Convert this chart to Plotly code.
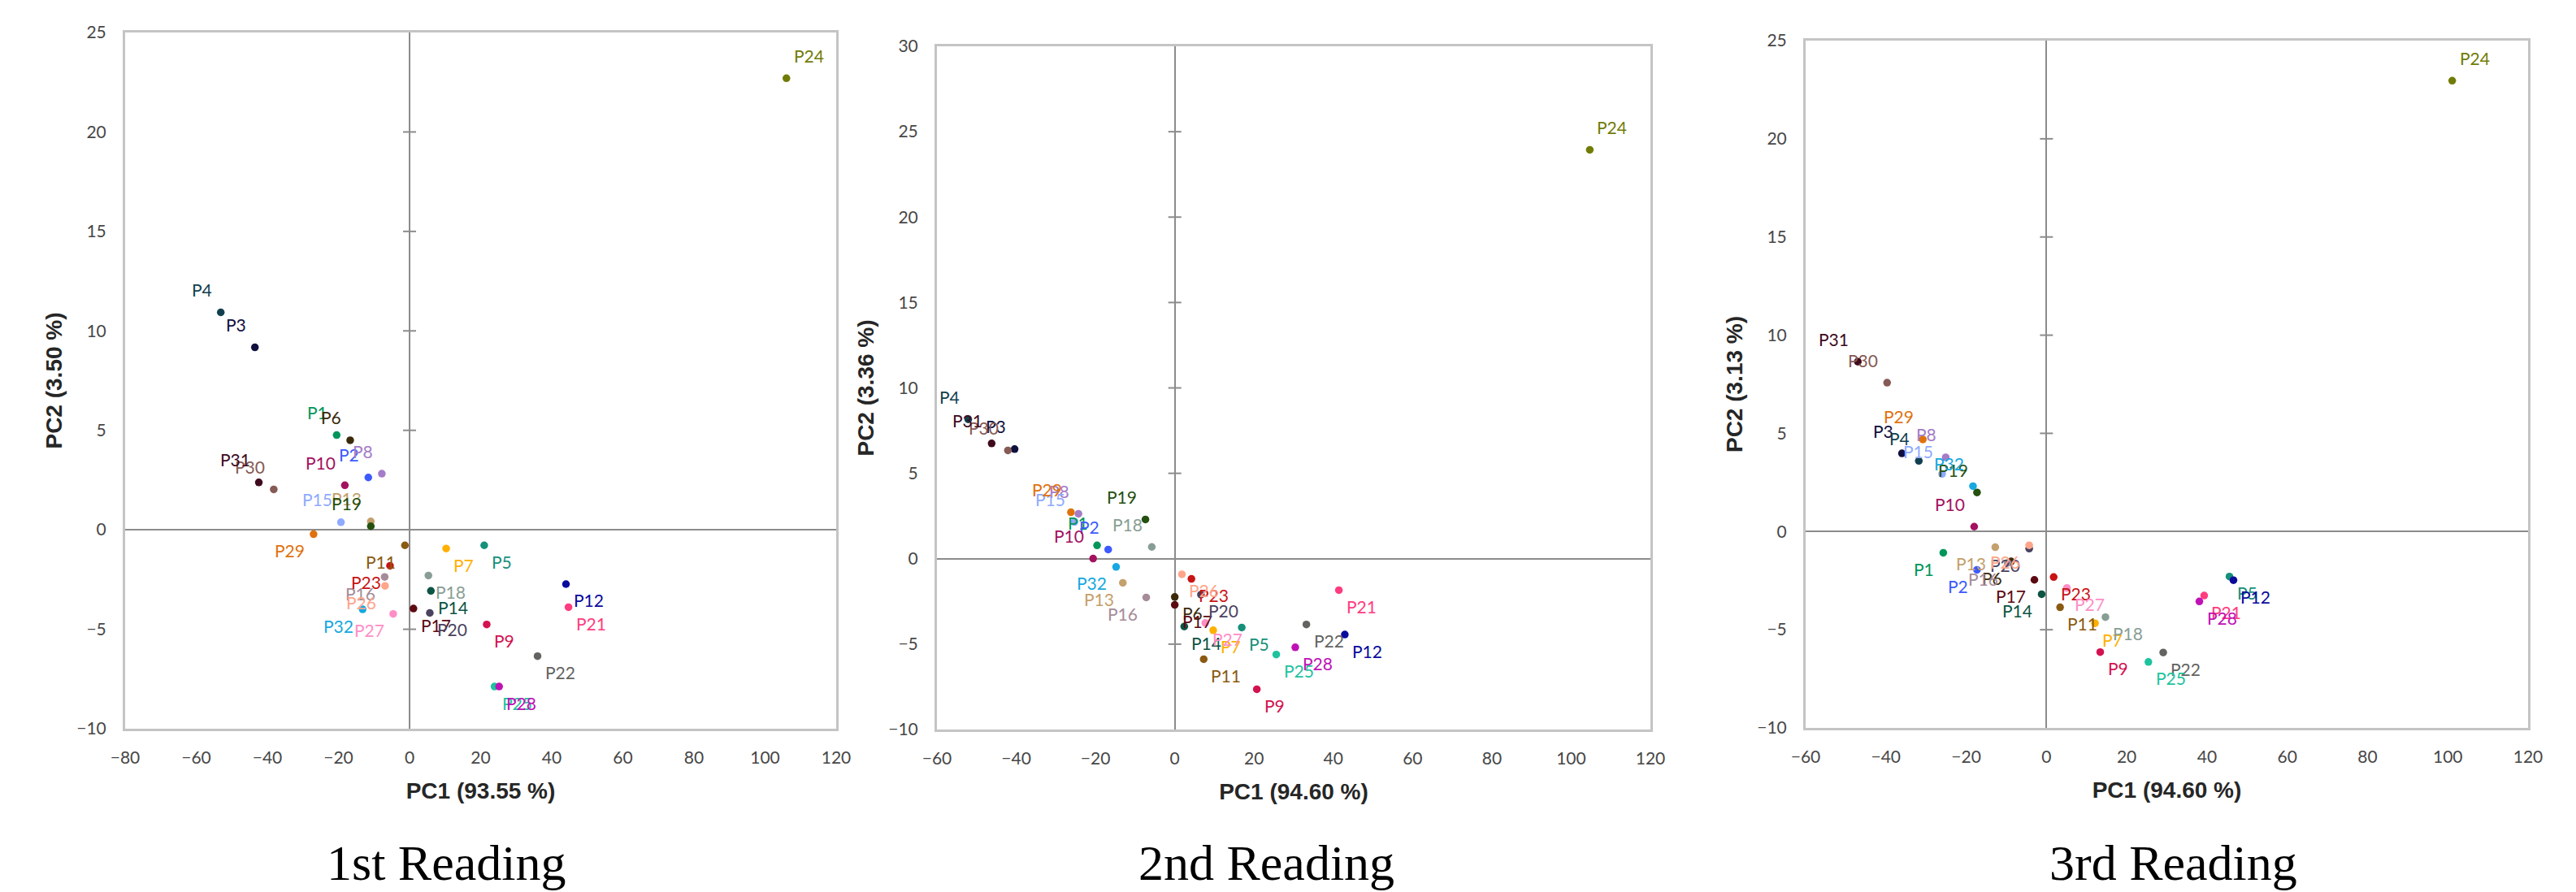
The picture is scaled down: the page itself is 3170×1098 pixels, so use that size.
import plotly.graph_objects as go

names = [f"P{i}" for i in range(1, 33)]

colors = ["#00965A", "#3D5AFE", "#10103F", "#123F4F", "#16907A", "#3B2A0A", "#FFB000", "#A47CC7",
          "#D3124F", "#A3125F", "#8A5A12", "#0A0A9C", "#C4A06C", "#0D5444", "#8FAAFF", "#A58C98",
          "#5C0A12", "#889E94", "#255010", "#4A4260", "#FF3C80", "#636360", "#C81414", "#717C06",
          "#1EC39E", "#FFA58A", "#FF8EC6", "#BF12B5", "#E0720E", "#865A55", "#400A1E", "#16A8E0"]

# 1st reading
pc1_r1 = [-20.5, -11.6, -43.5, -53.1, 21.0, -16.7, 10.3, -7.8, 21.7, -18.2, -1.3, 44.0, -10.9, 6.0, -19.3, -7.0,
          1.1, 5.3, -10.9, 5.7, 44.7, 36.0, -5.5, 106.0, 23.9, -6.9, -4.6, 25.2, -27.0, -38.2, -42.4, -13.2]
pc2_r1 = [4.76, 2.63, 9.17, 10.93, -0.78, 4.50, -0.94, 2.82, -4.76, 2.24, -0.78, -2.73, 0.42, -3.07, 0.38, -2.37,
          -3.96, -2.30, 0.18, -4.18, -3.89, -6.35, -1.81, 22.7, -7.88, -2.82, -4.23, -7.88, -0.22, 2.03, 2.38, -4.00]

# 2nd reading
pc1_r2 = [-19.6, -16.8, -40.4, -52.1, 16.9, 0.0, 9.7, -24.3, 20.7, -20.6, 7.3, 42.9, -13.1, 2.4, -25.3, -7.2,
          0.0, -5.8, -7.4, 6.6, 41.4, 33.2, 4.2, 104.7, 25.6, 1.8, 7.7, 30.4, -26.2, -42.1, -46.2, -14.8]
pc2_r2 = [0.78, 0.54, 6.42, 8.16, -4.03, -2.24, -4.19, 2.63, -7.64, 0.01, -5.88, -4.44, -1.41, -3.97, 2.15, -2.27,
          -2.70, 0.69, 2.30, -2.10, -1.84, -3.85, -1.18, 23.94, -5.61, -0.91, -3.76, -5.19, 2.72, 6.34, 6.75, -0.48]

# 3rd reading
pc1_r3 = [-25.7, -17.3, -36.0, -31.8, 45.6, -8.8, 12.1, -25.1, 13.4, -18.0, 3.4, 46.6, -12.75, -1.2, -26.0, -9.7,
          -3.0, 14.7, -17.3, -4.3, 39.3, 29.1, 1.8, 101.1, 25.4, -4.3, 5.1, 38.1, -30.8, -39.7, -47.0, -18.3]
pc2_r3 = [-1.08, -1.95, 3.98, 3.60, -2.29, -1.52, -4.67, 3.78, -6.14, 0.25, -3.86, -2.48, -0.80, -3.19, 2.93, -1.60,
          -2.46, -4.36, 1.99, -0.87, -3.26, -6.16, -2.32, 22.96, -6.64, -0.70, -2.87, -3.56, 4.69, 7.58, 8.65, 2.31]

x_titles = ["PC1 (93.55 %)", "PC1 (94.60 %)", "PC1 (94.60 %)"]
y_titles = ["PC2 (3.50 %)", "PC2 (3.36 %)", "PC2 (3.13 %)"]
subtitles = ["1st Reading", "2nd Reading", "3rd Reading"]
x_ranges = [[-80, 120], [-60, 120], [-60, 120]]
y_ranges = [[-10, 25], [-10, 30], [-10, 25]]

panels = [(pc1_r1, pc2_r1), (pc1_r2, pc2_r2), (pc1_r3, pc2_r3)]

W, H = 3170, 1098
# plot-area pixel boxes (left, right, top, bottom)
boxes = [(154, 1029, 40, 897), (1153, 2031, 57, 898), (2222, 3111, 50, 896)]
sub_x = [549, 1558, 2674]
sub_y = 1062

LABEL_FONT = "Lato"
TITLE_FONT = dict(family="Liberation Sans", size=28, color="#262626", weight="bold")
fig = go.Figure()
annotations = []
shapes = []
layout = {}

for i, ((xs, ys), box) in enumerate(zip(panels, boxes)):
    n = i + 1
    xa = "x" if n == 1 else f"x{n}"
    ya = "y" if n == 1 else f"y{n}"
    fig.add_trace(go.Scatter(
        x=xs, y=ys, mode="markers", xaxis=xa, yaxis=ya,
        marker=dict(size=9.5, color=colors, line=dict(width=0)),
        text=names, hoverinfo="text", showlegend=False))
    l, r, t, b = box
    common = dict(showgrid=False, zeroline=True, zerolinecolor="#8C8C8C", zerolinewidth=2,
                  showline=True, mirror=True, linecolor="#C4C4C4", linewidth=3,
                  ticks="", automargin=False,
                  tickfont=dict(family=LABEL_FONT, size=21, color="#474747"))
    layout["xaxis" if n == 1 else f"xaxis{n}"] = dict(
        domain=[l / W, r / W], anchor=ya, range=x_ranges[i], dtick=20, tick0=0,
        ticklabelstandoff=15,
        title=dict(text=x_titles[i], standoff=21, font=TITLE_FONT),
        **common)
    layout["yaxis" if n == 1 else f"yaxis{n}"] = dict(
        domain=[1 - b / H, 1 - t / H], anchor=xa, range=y_ranges[i], dtick=5, tick0=0,
        ticklabelstandoff=16,
        title=dict(text=y_titles[i], standoff=10, font=TITLE_FONT),
        **common)
    # cross tick marks on the vertical zero line
    y0, y1 = y_ranges[i]
    tv = y0 + 5
    while tv < y1:
        if tv != 0:
            shapes.append(dict(type="line", xref=xa, yref=ya, xsizemode="pixel", xanchor=0,
                               x0=-8, x1=8, y0=tv, y1=tv, line=dict(color="#8C8C8C", width=2)))
        tv += 5
    # point labels, placed by quadrant
    for name, c, xv, yv in zip(names, colors, xs, ys):
        right = xv >= 0
        top = yv >= 0
        annotations.append(dict(
            x=xv, y=yv, xref=xa, yref=ya, text=name, showarrow=False,
            xanchor="left" if right else "right", yanchor="middle",
            xshift=7 if right else -9, yshift=28 if top else -20,
            font=dict(family=LABEL_FONT, size=21, color=c)))
    annotations.append(dict(
        x=sub_x[i] / W, y=1 - sub_y / H, xref="paper", yref="paper", text=subtitles[i],
        showarrow=False, xanchor="center", yanchor="middle",
        font=dict(family="Liberation Serif", size=62, color="black")))

fig.update_layout(
    width=W, height=H, margin=dict(l=0, r=0, t=0, b=0),
    paper_bgcolor="white", plot_bgcolor="white",
    annotations=annotations, shapes=shapes, **layout)

fig.write_html("out.html", config={"displayModeBar": False},
               post_script="document.body.style.margin='0';document.body.style.overflow='hidden';")
